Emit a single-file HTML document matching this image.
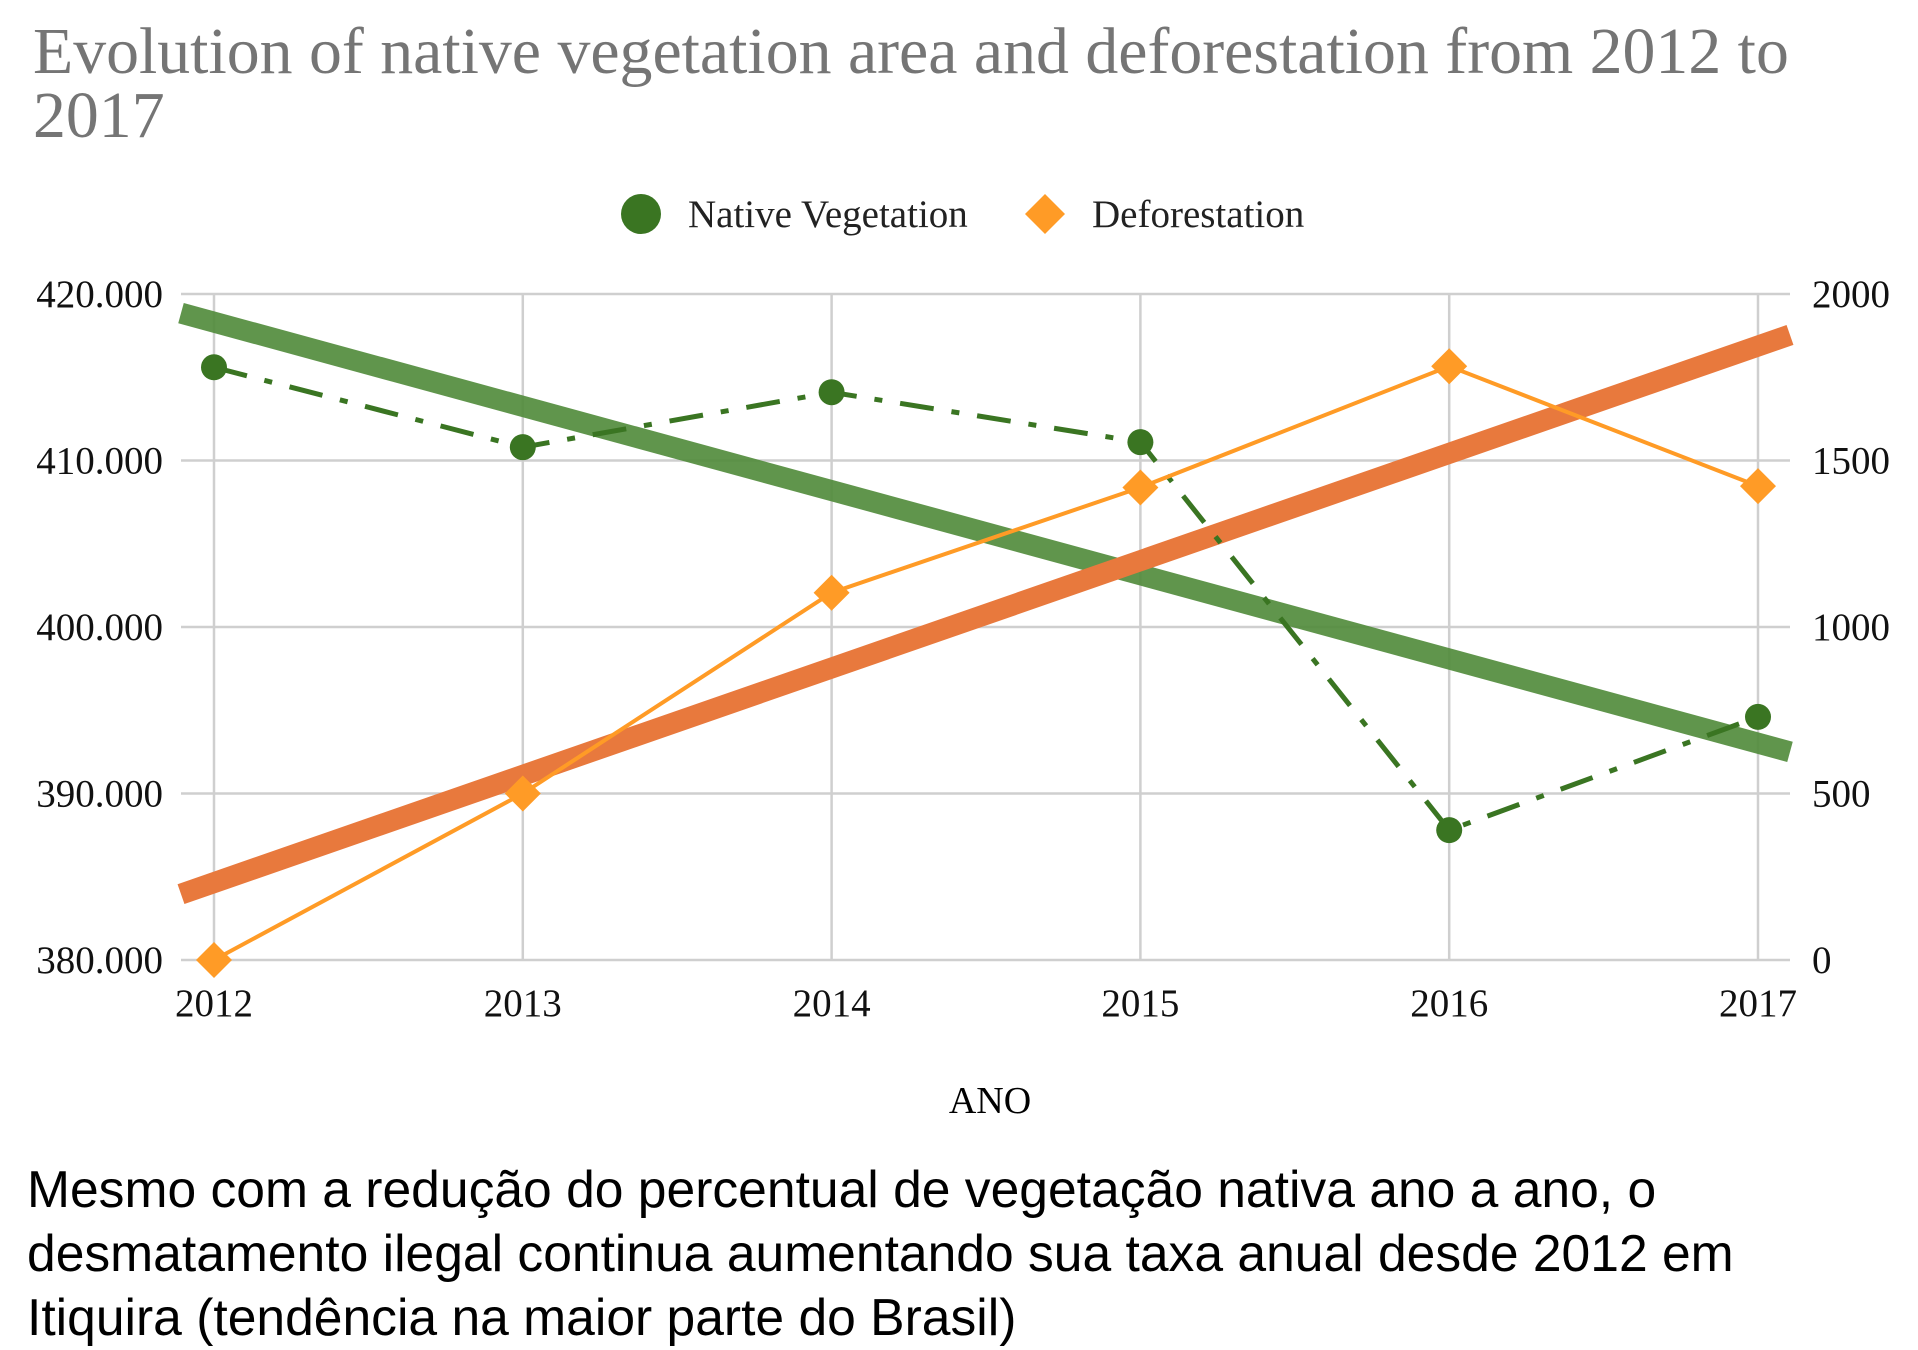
<!DOCTYPE html>
<html><head><meta charset="utf-8"><style>
html,body{margin:0;padding:0;background:#fff;width:1918px;height:1350px;overflow:hidden}
svg{position:absolute;left:0;top:0}
.cap{position:absolute;left:27px;top:1157px;font-family:"Liberation Sans",sans-serif;font-size:51.6px;line-height:64px;color:#000;width:1800px}
</style></head><body>
<svg id="chart" width="1918" height="1150" font-family="Liberation Serif, serif">
<text x="33" y="73" font-size="65.8" fill="#757575">Evolution of native vegetation area and deforestation from 2012 to</text>
<text x="33" y="137" font-size="65.8" fill="#757575">2017</text>
<g>
<circle cx="641" cy="214" r="20" fill="#3a7522"/>
<text x="688" y="227" font-size="39" fill="#222">Native Vegetation</text>
<polygon points="1045,194 1065,214 1045,234 1025,214" fill="#ff9b26"/>
<text x="1092" y="227" font-size="39" fill="#222">Deforestation</text>
</g>
<g id="grid"></g><g id="marks"></g><g id="labels"></g>
<text x="990" y="1113" font-size="38" text-anchor="middle" fill="#000">ANO</text>
</svg>
<div class="cap">Mesmo com a redução do percentual de vegetação nativa ano a ano, o<br>desmatamento ilegal continua aumentando sua taxa anual desde 2012 em<br>Itiquira (tendência na maior parte do Brasil)</div>
<script>
const years=[2012,2013,2014,2015,2016,2017];
const nativeVeg=[415600,410800,414100,411100,387800,394600];
const deforest=[0,500,1103,1419,1783,1423];
const leftTicks=[380000,390000,400000,410000,420000];
const leftTickLabels=["380.000","390.000","400.000","410.000","420.000"];
const rightTicks=[0,500,1000,1500,2000];
const NS="http://www.w3.org/2000/svg";
const X0=214,X1=1758,PL=181,PR=1790,YT=294,YB=960;
const xs=y=>X0+(y-2012)*(X1-X0)/5;
const yl=v=>YB-(v-380000)/40000*(YB-YT);
const yr=v=>YB-v/2000*(YB-YT);
const xinv=px=>2012+(px-X0)*5/(X1-X0);
function mk(tag,attrs,parent){const e=document.createElementNS(NS,tag);for(const k in attrs)e.setAttribute(k,attrs[k]);document.getElementById(parent).appendChild(e);return e;}
leftTicks.forEach((t,i)=>{
 const g=mk('line',{x1:PL,x2:PR,y1:yl(t),y2:yl(t),stroke:'#cfcfcf','stroke-width':2.5},'grid');
 
 
 const l=mk('text',{x:163,y:yl(t)+13,'font-size':39,'text-anchor':'end',fill:'#111'},'labels');
 l.textContent=leftTickLabels[i];
 
 
});
rightTicks.forEach(t=>{
 const l=mk('text',{x:1812,y:yr(t)+13,'font-size':39,fill:'#111'},'labels');
 l.textContent=t;
 
 
});
years.forEach(y=>{
 const g=mk('line',{x1:xs(y),x2:xs(y),y1:YT,y2:YB,stroke:'#cfcfcf','stroke-width':2.5},'grid');
 
 
 const l=mk('text',{x:xs(y),y:1016,'font-size':39,'text-anchor':'middle',fill:'#111'},'labels');
 l.textContent=y;
 
 
});
function trend(vals){const n=vals.length,mx=years.reduce((a,b)=>a+b)/n,my=vals.reduce((a,b)=>a+b)/n;let sxy=0,sxx=0;years.forEach((x,i)=>{sxy+=(x-mx)*(vals[i]-my);sxx+=(x-mx)*(x-mx)});const b=sxy/sxx;return x=>my+b*(x-mx);}
const tn=trend(nativeVeg),td=trend(deforest);
let t1=mk('line',{x1:PL,x2:PR,y1:yl(tn(xinv(PL))),y2:yl(tn(xinv(PR))),stroke:'#4f8a38','stroke-opacity':0.9,'stroke-width':21},'marks');


let t2=mk('line',{x1:PL,x2:PR,y1:yr(td(xinv(PL))),y2:yr(td(xinv(PR))),stroke:'#e8793d','stroke-width':21},'marks');


let p1=mk('polyline',{points:years.map((y,i)=>xs(y)+','+yl(nativeVeg[i])).join(' '),fill:'none',stroke:'#3a7522','stroke-width':5,'stroke-dasharray':'34 18 8 18'},'marks');


let p2=mk('polyline',{points:years.map((y,i)=>xs(y)+','+yr(deforest[i])).join(' '),fill:'none',stroke:'#ff9b26','stroke-width':4},'marks');


years.forEach((y,i)=>{
 const c=mk('circle',{cx:xs(y),cy:yl(nativeVeg[i]),r:13,fill:'#3a7522'},'marks');
 
 
 const x=xs(y),yy=yr(deforest[i]);
 const d=mk('polygon',{points:`${x},${yy-18} ${x+18},${yy} ${x},${yy+18} ${x-18},${yy}`,fill:'#ff9b26'},'marks');
 
 
});
</script>
</body></html>
